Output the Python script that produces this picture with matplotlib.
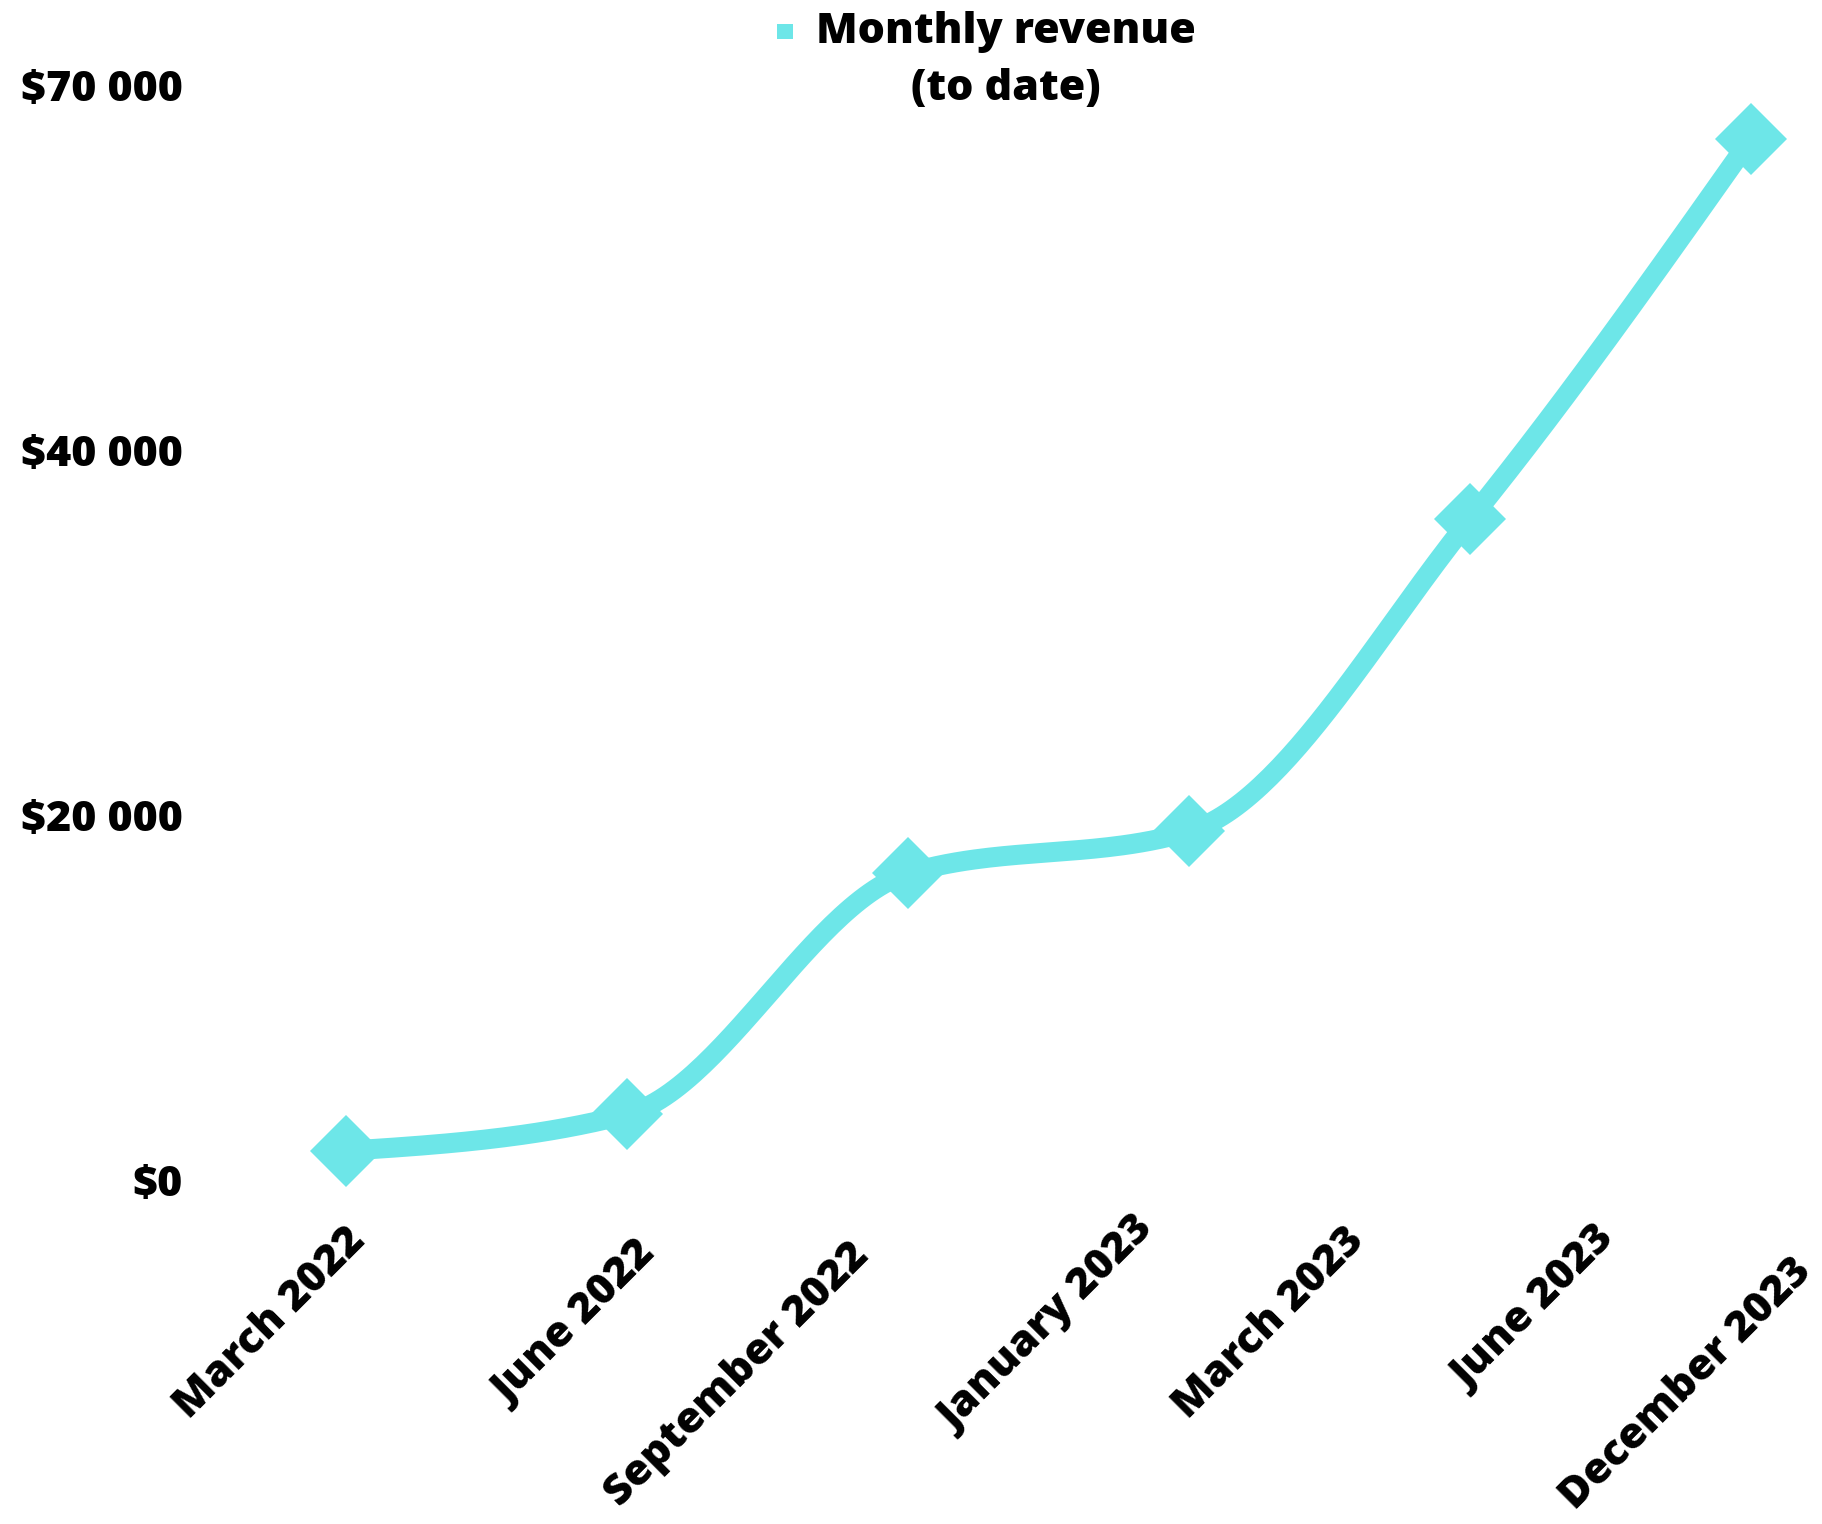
import numpy as np
import matplotlib
matplotlib.use("Agg")
import matplotlib.pyplot as plt
from matplotlib.patches import Rectangle
from matplotlib.transforms import blended_transform_factory

# data
months = ["March 2022", "June 2022", "September 2022", "January 2023",
          "March 2023", "June 2023", "December 2023"]
revenue = [1600, 3600, 16800, 19100, 36200, 65600]
y_ticks = [0, 20000, 40000, 70000]
y_labels = ["$0", "$20 000", "$40 000", "$70 000"]

# layout of the slanted month labels (x in point index, y offset below axis in px)
label_x = [0.075, 1.107, 1.865, 2.879, 3.630, 4.520, 5.221]
label_dy = [62, 77, 77, 52, 62, 62, 93]

CYAN = "#6de6e8"
FONT = "Open Sans"
WEIGHT = 800
FS = 31

W, H = 1822, 1524


def fwd(v):
    v = np.asarray(v, dtype=float)
    return np.where(v <= 40000, v / 20000, 2 + (v - 40000) / 30000)


def inv(t):
    t = np.asarray(t, dtype=float)
    return np.where(t <= 2, t * 20000, 40000 + (t - 2) * 30000)


def monotone_x(xs, ys, n=60):
    # same smoothing as d3.curveMonotoneX
    xs = np.asarray(xs, float)
    ys = np.asarray(ys, float)
    h = np.diff(xs)
    s = np.diff(ys) / h
    m = np.zeros(len(xs))
    for i in range(1, len(xs) - 1):
        p = (s[i - 1] * h[i] + s[i] * h[i - 1]) / (h[i - 1] + h[i])
        m[i] = (np.sign(s[i - 1]) + np.sign(s[i])) * min(abs(s[i - 1]), abs(s[i]), 0.5 * abs(p))
    m[0] = (3 * s[0] - m[1]) / 2
    m[-1] = (3 * s[-1] - m[-2]) / 2
    out_x, out_y = [], []
    for i in range(len(xs) - 1):
        t = np.linspace(0, 1, n)
        h00 = 2 * t**3 - 3 * t**2 + 1
        h10 = t**3 - 2 * t**2 + t
        h01 = -2 * t**3 + 3 * t**2
        h11 = t**3 - t**2
        out_x.append(xs[i] + t * h[i])
        out_y.append(h00 * ys[i] + h10 * h[i] * m[i] + h01 * ys[i + 1] + h11 * h[i] * m[i + 1])
    return np.concatenate(out_x), np.concatenate(out_y)


fig = plt.figure(figsize=(W / 100, H / 100), dpi=100)
fig.patch.set_facecolor("white")

ax_left, ax_bottom_px = 190, 1180
ax = fig.add_axes([ax_left / W, (H - ax_bottom_px) / H, (W - ax_left) / W, ax_bottom_px / H])

x = np.arange(len(revenue))
px_per_unit = 281.0
x0 = -(346 - ax_left) / px_per_unit
ax.set_xlim(x0, x0 + (W - ax_left) / px_per_unit)

ax.set_yscale("function", functions=(fwd, inv))
ax.set_ylim(0, float(inv(ax_bottom_px / 365.0)))

sx, st = monotone_x(x, fwd(revenue))
ax.plot(sx, inv(st), color=CYAN, lw=14.4, solid_capstyle="butt", clip_on=False, zorder=3)
ax.plot(x, revenue, ls="none", marker="D", ms=37, mew=0, color=CYAN, clip_on=False, zorder=4)

ax.set_yticks(y_ticks)
ax.set_yticklabels(y_labels, fontfamily=FONT, fontweight=WEIGHT, fontsize=FS)
ax.tick_params(axis="y", length=0, pad=5)
ax.set_xticks([])
for sp in ax.spines.values():
    sp.set_visible(False)

trans = blended_transform_factory(ax.transData, ax.transAxes)
for lab, lx, dy in zip(months, label_x, label_dy):
    ax.text(lx, -dy / ax_bottom_px, lab, transform=trans, rotation=45,
            rotation_mode="anchor", ha="right", va="baseline",
            fontfamily=FONT, fontweight=WEIGHT, fontsize=FS, clip_on=False)

# legend
fig.add_artist(Rectangle((777 / W, 1 - 39 / H), 16 / W, 15 / H, transform=fig.transFigure,
                         color=CYAN, lw=0))
fig.text(1006 / W, 1 - 43 / H, "Monthly revenue", ha="center", va="baseline",
         fontfamily=FONT, fontweight=WEIGHT, fontsize=FS)
fig.text(1006 / W, 1 - 100 / H, "(to date)", ha="center", va="baseline",
         fontfamily=FONT, fontweight=WEIGHT, fontsize=FS)

fig.savefig("out.png", dpi=100, facecolor="white")
